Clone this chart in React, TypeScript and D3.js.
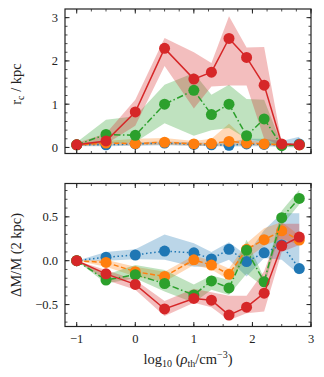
import React from 'react';
import * as d3 from 'd3';

// density thresholds, log10(rho_th / cm^-3)
const xs = [-1, -0.5, 0, 0.5, 1, 1.3, 1.6, 1.9, 2.2, 2.5, 2.8];

// top panel: core radius r_c (kpc)
const rcBlue = [0.06, 0.06, 0.08, 0.1, 0.07, 0.06, 0.05, 0.08, 0.07, 0.06, 0.08];
const rcBlueLo = [0.03, 0.03, 0.04, 0.05, 0.04, 0.03, 0.02, 0.03, 0.03, 0.01, 0.0];
const rcBlueHi = [0.1, 0.12, 0.12, 0.14, 0.12, 0.1, 0.12, 0.2, 0.2, 0.15, 0.25];
const rcOrange = [0.06, 0.1, 0.09, 0.12, 0.08, 0.09, 0.14, 0.1, 0.08, 0.06, 0.06];
const rcOrangeLo = [0.03, 0.05, 0.05, 0.06, 0.04, 0.04, 0.05, 0.05, 0.04, 0.03, 0.03];
const rcOrangeHi = [0.1, 0.15, 0.2, 0.22, 0.15, 0.2, 0.55, 0.18, 0.12, 0.1, 0.08];
const rcGreen = [0.06, 0.3, 0.28, 1.0, 1.32, 0.76, 1.0, 0.27, 0.66, 0.04, 0.06];
const rcGreenLo = [0.04, 0.1, 0.12, 0.56, 0.27, 0.4, 0.45, 0.2, 0.12, 0.02, 0.02];
const rcGreenHi = [0.12, 0.64, 0.72, 1.45, 1.72, 1.22, 1.45, 1.12, 1.1, 0.06, 0.08];
const rcRed = [0.06, 0.15, 0.82, 2.29, 1.58, 1.74, 2.52, 2.08, 1.44, 0.08, 0.06];
const rcRedLo = [0.04, 0.08, 0.5, 1.88, 0.9, 1.41, 1.43, 1.43, 0.2, 0.04, 0.04];
const rcRedHi = [0.1, 0.32, 1.1, 2.53, 2.2, 1.95, 3.03, 2.31, 2.32, 0.1, 0.1];

// bottom panel: Delta M / M within 2 kpc
const dmBlue = [0, 0.04, 0.065, 0.11, 0.09, 0.02, 0.13, -0.01, 0.09, 0.18, -0.09];
const dmBlueLo = [0, 0, 0.016, 0.01, -0.07, -0.07, 0.01, -0.18, 0.03, 0.01, -0.16];
const dmBlueHi = [0, 0.1, 0.13, 0.3, 0.2, 0.1, 0.21, 0.06, 0.35, 0.54, 0.54];
const dmOrange = [0, -0.02, -0.125, -0.18, 0.01, -0.05, -0.155, 0.13, 0.24, 0.34, 0.235];
const dmOrangeLo = [0, -0.07, -0.18, -0.24, -0.05, -0.1, -0.22, 0.02, 0.17, 0.25, 0.18];
const dmOrangeHi = [0, 0.01, -0.07, -0.125, 0.06, 0.0, -0.09, 0.2, 0.37, 0.44, 0.29];
const dmGreen = [0, -0.22, -0.16, -0.26, -0.39, -0.23, -0.31, 0.12, -0.24, 0.49, 0.71];
const dmGreenLo = [0, -0.26, -0.2, -0.35, -0.48, -0.33, -0.39, -0.15, -0.3, 0.4, 0.64];
const dmGreenHi = [0, -0.16, -0.05, -0.105, -0.27, -0.17, -0.22, 0.24, -0.2, 0.57, 0.81];
const dmRed = [0, -0.15, -0.27, -0.55, -0.43, -0.45, -0.62, -0.53, -0.37, 0.17, 0.27];
const dmRedLo = [0, -0.22, -0.33, -0.63, -0.48, -0.53, -0.68, -0.6, -0.58, 0.1, 0.18];
const dmRedHi = [0, -0.105, -0.22, -0.46, -0.32, -0.36, -0.4, -0.4, -0.12, 0.42, 0.42];

const xTicks = [-1, 0, 1, 2, 3];
const rcTicks = [0, 1, 2, 3];
const dmTicks = [-0.5, 0, 0.5];

const BLUE = '#1f77b4';
const ORANGE = '#ff7f0e';
const GREEN = '#2ca02c';
const RED = '#d62728';
const FONT = '"Liberation Serif", "DejaVu Serif", serif';

const styles = [
  { color: BLUE, dash: '1.5,2.6' },
  { color: ORANGE, dash: '5,2.5' },
  { color: GREEN, dash: '6.5,2.5,1.5,2.5' },
  { color: RED, dash: null },
];

const L = 65;
const R = 311;
const x = d3.scaleLinear().domain([-1.2, 3]).range([L, R]);

const fmt = (v: number) => (v < 0 ? '\u2212' : '') + Math.abs(v);

function Panel({ y, series, ticks, minor, tickFmt, showX }: any) {
  const [y0, y1] = y.range();
  const area = d3.area<number>().x((_, i) => x(xs[i]));
  const line = d3.line<number>().x((_, i) => x(xs[i])).y((d) => y(d));
  const xMinor = d3.range(-1, 3.001, 0.25);
  return (
    <g>
      {series.map((s: any, k: number) => (
        <path key={'b' + k}
          d={area.y0((_, i) => y(s.lo[i])).y1((d) => y(d))(s.hi) || ''}
          fill={styles[k].color} fillOpacity={0.3} stroke="none" />
      ))}
      {series.map((s: any, k: number) => (
        <g key={'l' + k}>
          <path d={line(s.vals) || ''} fill="none" stroke={styles[k].color}
            strokeWidth={1.5} strokeDasharray={styles[k].dash || undefined} />
          {s.vals.map((v: number, i: number) => (
            <circle key={i} cx={x(xs[i])} cy={y(v)} r={5.5} fill={styles[k].color} />
          ))}
        </g>
      ))}
      {/* ticks, inward on all sides */}
      {xMinor.map((t) => (
        <g key={'xm' + t} stroke="#222" strokeWidth={0.8}>
          <line x1={x(t)} x2={x(t)} y1={y0} y2={y0 - 2.5} />
          <line x1={x(t)} x2={x(t)} y1={y1} y2={y1 + 2.5} />
        </g>
      ))}
      {xTicks.map((t) => (
        <g key={'x' + t} stroke="#222" strokeWidth={1}>
          <line x1={x(t)} x2={x(t)} y1={y0} y2={y0 - 4.5} />
          <line x1={x(t)} x2={x(t)} y1={y1} y2={y1 + 4.5} />
        </g>
      ))}
      {minor.map((t: number) => (
        <g key={'ym' + t} stroke="#222" strokeWidth={0.8}>
          <line x1={L} x2={L + 2.5} y1={y(t)} y2={y(t)} />
          <line x1={R} x2={R - 2.5} y1={y(t)} y2={y(t)} />
        </g>
      ))}
      {ticks.map((t: number) => (
        <g key={'y' + t}>
          <line x1={L} x2={L + 4.5} y1={y(t)} y2={y(t)} stroke="#222" />
          <line x1={R} x2={R - 4.5} y1={y(t)} y2={y(t)} stroke="#222" />
          <text x={L - 7} y={y(t)} dy="0.35em" textAnchor="end" fontSize={12.5}
            fontFamily={FONT} fill="#222">{tickFmt(t)}</text>
        </g>
      ))}
      {showX && xTicks.map((t) => (
        <text key={'xl' + t} x={x(t)} y={y0 + 16} textAnchor="middle" fontSize={12.5}
          fontFamily={FONT} fill="#222">{fmt(t)}</text>
      ))}
      <rect x={L} y={y1} width={R - L} height={y0 - y1} fill="none" stroke="#222" strokeWidth={1.2} />
    </g>
  );
}

export default function App() {
  const yTop = d3.scaleLinear().domain([-0.14, 3.2]).range([153.5, 9]);
  const yBot = d3.scaleLinear().domain([-0.75, 0.88]).range([326.5, 183.5]);
  const topSeries = [
    { vals: rcBlue, lo: rcBlueLo, hi: rcBlueHi },
    { vals: rcOrange, lo: rcOrangeLo, hi: rcOrangeHi },
    { vals: rcGreen, lo: rcGreenLo, hi: rcGreenHi },
    { vals: rcRed, lo: rcRedLo, hi: rcRedHi },
  ];
  const botSeries = [
    { vals: dmBlue, lo: dmBlueLo, hi: dmBlueHi },
    { vals: dmOrange, lo: dmOrangeLo, hi: dmOrangeHi },
    { vals: dmGreen, lo: dmGreenLo, hi: dmGreenHi },
    { vals: dmRed, lo: dmRedLo, hi: dmRedHi },
  ];
  return (
    <svg width={324} height={377} style={{ position: 'absolute', left: 0, top: 0, background: '#fff' }}>
      <Panel y={yTop} series={topSeries} ticks={rcTicks} minor={d3.range(0, 3.2, 0.2)}
        tickFmt={(v: number) => String(v)} showX={false} />
      <Panel y={yBot} series={botSeries} ticks={dmTicks} minor={d3.range(-0.7, 0.88, 0.1)}
        tickFmt={(v: number) => (v < 0 ? '\u2212' : '') + Math.abs(v).toFixed(1)} showX={true} />
      <text transform="translate(21,84) rotate(-90)" textAnchor="middle" fontSize={14.5}
        fontFamily={FONT} fill="#222">
        r<tspan fontSize={10} dy={3}>c</tspan><tspan dy={-3}> / kpc</tspan>
      </text>
      <text transform="translate(21,255) rotate(-90)" textAnchor="middle" fontSize={14.5}
        fontFamily={FONT} fill="#222">ΔM/M (2 kpc)</text>
      <text x={188} y={364} textAnchor="middle" fontSize={14.5} fontFamily={FONT} fill="#222">
        log<tspan fontSize={10} dy={3}>10</tspan>
        <tspan dy={-3}> (</tspan><tspan fontStyle="italic">ρ</tspan>
        <tspan fontSize={10} dy={3}>th</tspan>
        <tspan dy={-3}>/cm</tspan><tspan fontSize={10} dy={-6}>−3</tspan>
        <tspan dy={6}>)</tspan>
      </text>
    </svg>
  );
}
